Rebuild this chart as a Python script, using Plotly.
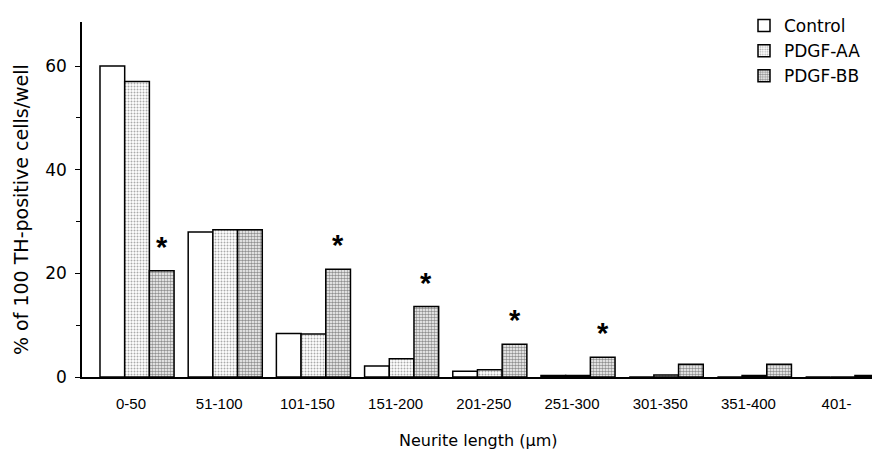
import plotly.graph_objects as go

categories = ["0-50", "51-100", "101-150", "151-200", "201-250",
              "251-300", "301-350", "351-400", "401-"]
control = [60.0, 28.0, 8.4, 2.1, 1.1, 0.3, 0.0, 0.0, 0.0]
pdgf_aa = [57.0, 28.4, 8.3, 3.5, 1.4, 0.3, 0.4, 0.3, 0.0]
pdgf_bb = [20.5, 28.4, 20.8, 13.6, 6.3, 3.8, 2.45, 2.45, 0.3]
significant = [True, False, True, True, True, True, False, False, False]

FONT = "Liberation Sans, Arial, sans-serif"
WIDE = "DejaVu Sans, Liberation Sans, sans-serif"

# page body has an 8px margin, so the figure is sized to fit the 880x464 view
W, H = 872, 456
L, R, T, B = 74, 0, 14, 87
PW, PH = W - L - R, H - T - B

fig = go.Figure()
fig.add_trace(go.Bar(
    name="Control", x=categories, y=control,
    marker=dict(color="white", line=dict(color="black", width=1.5)),
))
fig.add_trace(go.Bar(
    name="PDGF-AA", x=categories, y=pdgf_aa,
    marker=dict(color="white", line=dict(color="black", width=1.5),
                pattern=dict(shape=".", fgcolor="#555", bgcolor="white",
                             size=3, solidity=0.35)),
))
fig.add_trace(go.Bar(
    name="PDGF-BB", x=categories, y=pdgf_bb,
    marker=dict(color="white", line=dict(color="black", width=1.5),
                pattern=dict(shape=".", fgcolor="#222", bgcolor="white",
                             size=3, solidity=0.55)),
))

for cat, val, sig in zip(categories, pdgf_bb, significant):
    if sig:
        fig.add_annotation(x=cat, y=val, text="<b>*</b>", showarrow=False,
                           xshift=24.7, yshift=24, yanchor="middle",
                           font=dict(family=FONT, size=29, color="black"))

# axis titles placed as annotations for precise positioning
fig.add_annotation(xref="paper", yref="paper", x=(470 - L) / PW,
                   y=-(432 - (T + PH)) / PH, text="Neurite length (μm)",
                   showarrow=False, xanchor="center", yanchor="middle",
                   font=dict(family=WIDE, size=16, color="black"))
fig.add_annotation(xref="paper", yref="paper", x=-(L - 13) / PW,
                   y=((T + PH) - 202) / PH, text="% of 100 TH-positive cells/well",
                   showarrow=False, textangle=-90, xanchor="center",
                   yanchor="middle",
                   font=dict(family=WIDE, size=19, color="black"))

fig.update_layout(
    width=W, height=H,
    margin=dict(l=L, r=R, t=T, b=B, autoexpand=False),
    paper_bgcolor="white", plot_bgcolor="white",
    barmode="group", bargap=0.16, bargroupgap=0,
    font=dict(family=FONT, color="black"),
    legend=dict(xref="container", yref="container", x=736 / W,
                y=1.0, xanchor="left", yanchor="top",
                font=dict(family=WIDE, size=17),
                bgcolor="rgba(0,0,0,0)", tracegroupgap=0),
    showlegend=True,
)
fig.update_xaxes(
    type="category", range=[-0.624, 8.424],
    showline=True, linecolor="black", linewidth=1.5,
    showgrid=False, zeroline=False, ticks="",
    tickfont=dict(size=15), ticklabelstandoff=12, ticklabelshift=-6,
)
fig.update_yaxes(
    range=[0, 68.5], tickvals=[0, 20, 40, 60],
    showline=True, linecolor="black", linewidth=1.5,
    showgrid=False, zeroline=False,
    ticks="outside", ticklen=5, tickwidth=1.2, tickcolor="black",
    minor=dict(ticks="outside", ticklen=4, tickvals=[10, 30, 50],
               tickcolor="black", showgrid=False),
    tickfont=dict(family=WIDE, size=17), ticklabelstandoff=5,
)

fig.write_html("out.html")
